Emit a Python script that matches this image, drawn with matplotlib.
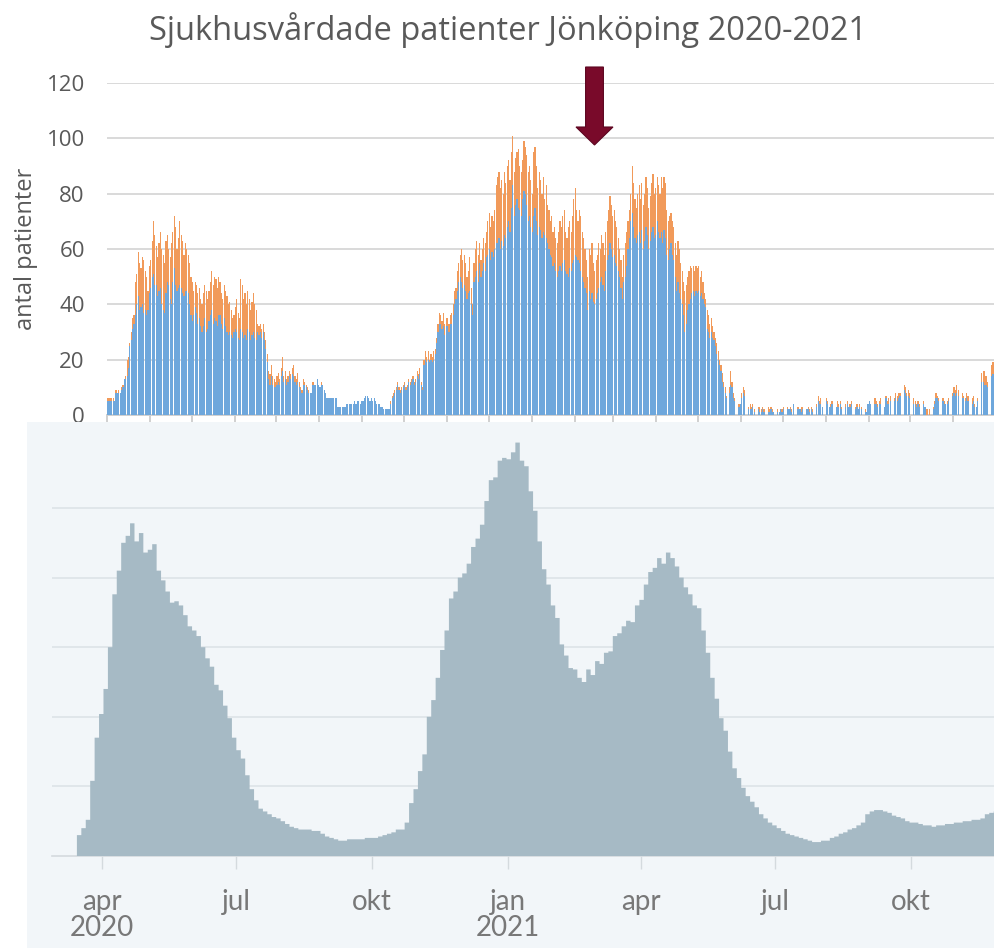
import numpy as np
import pandas as pd
import matplotlib
matplotlib.use("Agg")
import matplotlib.pyplot as plt
import matplotlib.dates as mdates
from matplotlib.patches import FancyArrow

# ---------------- data: top chart (daily patients, Region Jönköping) ----------------
top_start = "2020-03-15"
total = [
6,6,6,6,6,5,9,8,9,8,
10,11,13,14,20,21,26,30,35,36,
48,51,59,55,53,57,56,52,50,45,
54,56,63,70,65,61,57,62,66,60,
58,55,63,65,60,57,62,66,72,68,
60,64,70,65,63,58,62,60,58,55,
50,48,45,48,47,44,46,42,40,44,
47,45,42,45,48,52,47,50,49,46,
50,48,44,42,47,45,43,40,41,38,
35,36,39,42,37,35,49,47,42,44,
40,45,42,38,41,44,40,38,33,32,
33,31,33,30,27,22,16,15,18,14,
13,12,14,15,13,17,21,14,16,13,
14,16,15,17,18,14,13,15,12,10,
9,13,12,11,10,9,8,8,12,11,
11,13,11,10,12,11,9,8,6,6,
6,6,6,6,6,6,3,3,3,3,
3,3,4,4,4,4,4,4,5,4,
5,5,4,5,5,6,7,7,6,5,
6,5,6,5,4,4,4,3,3,2,
2,2,2,2,5,7,8,9,10,12,
10,9,10,11,12,10,11,13,12,13,
14,12,13,16,15,17,12,10,20,23,
21,23,20,22,21,23,24,28,33,37,
36,34,37,33,35,35,33,36,37,40,
45,46,52,55,58,60,56,58,55,50,
52,57,46,40,55,60,63,58,62,56,
60,64,62,66,70,73,68,72,70,74,
83,86,88,82,85,80,88,84,90,92,
85,95,101,88,93,95,96,90,88,92,
99,97,94,88,90,85,80,95,97,90,
82,88,85,80,86,78,83,76,74,70,
72,66,68,64,62,66,70,68,72,74,
66,64,68,70,66,72,78,82,74,70,
74,72,66,64,60,56,50,60,58,62,
55,52,56,58,62,60,65,62,58,66,
70,74,79,76,72,74,70,68,64,60,
56,50,58,62,66,70,74,80,90,84,
78,75,80,83,78,84,76,80,86,82,
75,79,84,87,80,82,86,83,80,86,
82,86,84,74,70,72,73,70,68,62,
58,63,60,55,52,48,45,47,50,52,
54,53,54,52,54,53,54,50,52,48,
44,42,38,36,33,35,32,30,28,26,
23,20,18,15,12,10,
7,0,10,16,12,8,6,
0,0,4,4,8,10,9,
0,0,3,4,3,4,2,
0,0,3,3,2,3,2,
0,0,3,2,3,2,1,
0,0,2,1,2,2,3,
0,0,3,2,3,2,4,
0,0,3,3,2,3,3,
0,0,2,3,2,3,2,
0,0,4,7,5,6,3,
0,0,6,5,3,4,5,
0,0,3,5,4,5,3,
0,0,4,5,3,4,5,
0,0,3,4,2,4,3,
0,0,2,1,4,5,4,
0,0,6,5,4,5,6,
0,0,3,7,5,6,7,
0,0,6,8,7,8,8,
0,0,11,10,8,9,8,
0,0,6,5,4,5,4,
0,0,5,3,2,2,2,
0,0,3,5,8,7,6,
0,0,6,5,4,5,6,
0,0,8,10,9,11,9,
0,0,8,7,6,8,7,
0,0,6,7,4,3,6,
0,0,15,16,16,14,12,
0,0,18,19]

blue = [
5,5,5,5,5,5,8,8,8,8,
9,10,13,13,14,17,25,27,31,33,
36,40,43,38,39,40,37,38,36,38,
44,46,50,51,47,47,43,45,46,40,
38,37,44,48,47,42,40,48,53,47,
45,46,47,46,44,43,45,45,44,40,
36,34,36,39,37,33,35,32,30,32,
35,30,31,34,36,38,33,35,34,32,
36,36,33,31,35,32,30,29,30,29,
28,30,31,30,28,27,31,30,28,29,
27,31,30,27,29,30,28,27,30,29,
30,28,30,27,24,19,13,11,14,11,
10,10,11,12,11,14,16,12,13,11,
12,14,13,15,14,12,11,12,10,9,
8,11,11,10,9,8,8,8,11,11,
11,13,11,10,11,11,9,8,6,6,
6,6,6,6,6,6,3,3,3,3,
3,3,4,4,4,4,4,4,5,4,
5,5,4,5,5,6,7,7,6,5,
6,5,6,5,4,4,4,3,3,2,
2,2,2,2,4,6,7,8,9,11,
9,8,9,10,11,9,10,12,11,12,
13,11,12,14,13,15,11,9,18,20,
19,20,19,20,19,20,22,26,30,33,
33,31,32,29,32,32,30,33,33,36,
40,42,45,48,50,48,46,47,45,42,
44,45,40,36,48,50,52,48,55,50,
52,55,52,57,58,60,56,59,57,60,
62,62,64,60,63,61,65,64,68,70,
66,75,83,72,76,78,75,74,72,78,
81,80,76,70,72,68,66,72,75,70,
65,68,67,64,66,65,64,62,60,58,
57,54,55,52,50,52,54,52,55,56,
52,51,50,53,52,55,56,58,57,56,
55,52,50,48,46,44,38,45,42,44,
41,40,42,44,46,48,50,47,45,52,
56,58,62,60,57,58,55,54,52,50,
46,42,48,50,54,60,64,70,73,68,
64,62,65,66,62,67,60,63,68,65,
60,63,66,68,64,65,70,66,64,66,
62,67,64,58,56,60,62,58,56,50,
45,48,44,42,40,36,30,33,38,40,
42,44,45,43,45,44,45,43,44,42,
40,39,31,30,28,30,28,27,25,22,
20,18,16,12,10,8,
6,0,8,11,10,6,5,
0,0,3,4,6,8,7,
0,0,2,2,2,3,1,
0,0,2,1,1,2,1,
0,0,1,1,2,1,1,
0,0,1,1,2,1,2,
0,0,2,2,2,1,4,
0,0,2,2,2,1,2,
0,0,2,2,1,2,1,
0,0,3,5,4,4,3,
0,0,5,4,3,3,4,
0,0,3,3,3,4,2,
0,0,3,4,3,3,4,
0,0,2,3,2,3,2,
0,0,1,1,4,5,4,
0,0,4,4,3,4,4,
0,0,3,6,4,4,5,
0,0,5,6,5,6,7,
0,0,9,8,7,7,6,
0,0,4,4,3,4,3,
0,0,4,3,0,0,0,
0,0,2,4,6,6,5,
0,0,5,4,4,4,5,
0,0,7,8,7,8,7,
0,0,6,6,5,6,5,
0,0,4,5,3,3,5,
0,0,12,12,11,11,10,
0,0,14,15]

top_yticks = [0, 20, 40, 60, 80, 100, 120]

# ---------------- data: bottom chart (smoothed curve, values every 3 days) ----------------
bottom_start = "2020-03-15"
bottom_step_days = 3
bottom_vals = [
15,20,26,54,85,102,120,150,188,205,225,230,239,226,232,218,220,224,205,198,
190,182,183,180,173,165,162,158,150,142,136,123,119,108,99,85,76,70,58,48,
40,34,32,30,28,27,25,23,21,20,19,19,19,18,18,16,14,13,12,11,
11,12,12,12,12,13,13,13,14,15,16,17,19,19,24,38,48,61,73,100,
112,128,148,162,185,190,200,203,210,222,228,238,255,270,272,284,286,285,290,297,
284,280,262,248,226,206,195,180,171,152,144,135,134,128,125,134,130,140,138,146,
147,158,160,165,169,168,180,184,195,204,207,214,210,218,214,208,200,193,188,180,
178,162,146,128,113,99,90,75,63,56,49,43,39,35,30,27,24,22,20,18,
16,15,14,13,12,11,10,10,11,11,13,14,16,17,19,20,22,24,30,32,
33,33,32,31,29,28,27,25,24,24,23,22,22,21,22,22,23,23,24,24,
25,25,26,26,27,30,31,32]
bottom_tick_dates = ["2020-04-01", "2020-07-01", "2020-10-01", "2021-01-01",
                     "2021-04-01", "2021-07-01", "2021-10-01"]
bottom_tick_labels = ["apr\n2020", "jul", "okt", "jan\n2021", "apr", "jul", "okt"]
bottom_grid = [50, 100, 150, 200, 250]

title = "Sjukhusvårdade patienter Jönköping 2020-2021"
ylabel = "antal patienter"

# ---------------- figure ----------------
W, H = 995, 948
fig = plt.figure(figsize=(W / 100, H / 100), dpi=100)
fig.patch.set_facecolor("white")

def fx(px):
    return px / W

def fy(py):
    return 1 - py / H

txt_font = ["Open Sans", "DejaVu Sans"]

# ---- top axes ----
ax = fig.add_axes([fx(107), fy(415), fx(888), 332 / H])
n = len(total)
x = np.arange(n)
blue_a = np.array(blue, dtype=float)
tot_a = np.array(total, dtype=float)
orange_a = np.clip(tot_a - blue_a, 0, None)
ax.bar(x, blue_a, width=0.85, color="#6ea7dc", linewidth=0, zorder=3)
ax.bar(x, orange_a, bottom=blue_a, width=0.85, color="#f19a5a", linewidth=0, zorder=3)
ax.set_ylim(0, 120)
ax.set_xlim(-0.5, -0.5 + 888 / 1.39)
ax.set_yticks(top_yticks)
ax.set_yticklabels([str(v) for v in top_yticks], fontsize=16, color="#595959",
                   family=txt_font)
ax.tick_params(axis="y", length=0, pad=16)
ax.grid(axis="y", color="#d9d9d9", linewidth=1.4, zorder=0)
for s in ["top", "right", "left"]:
    ax.spines[s].set_visible(False)
ax.spines["bottom"].set_color("#d0d0d0")
ax.spines["bottom"].set_linewidth(1.4)
start = pd.Timestamp(top_start)
month_ticks = pd.date_range(start, periods=22, freq=pd.DateOffset(months=1))
tick_pos = [(d - start).days - 0.5 for d in month_ticks]
ax.set_xticks(tick_pos)
ax.set_xticklabels([])
ax.tick_params(axis="x", length=7, width=1.4, color="#d0d0d0")
ax.set_ylabel(ylabel, fontsize=17, color="#595959", family=txt_font, labelpad=6)
ax.patch.set_alpha(0)

fig.text(fx(508), fy(30), title, ha="center", va="center", fontsize=23.5,
         color="#595959", family=txt_font)

# arrow (annotation)
arr = FancyArrow(fx(594.5), fy(67), 0, fy(145) - fy(67), width=17 / H,
                 head_width=37 / W, head_length=18 / H, length_includes_head=True,
                 transform=fig.transFigure, facecolor="#790a2a", edgecolor="#5c0620",
                 linewidth=0.8)
fig.add_artist(arr)

# ---- bottom panel ----
panel = fig.add_axes([fx(27), 0, fx(968), (H - 422) / H])
panel.set_facecolor("#f2f6f9")
panel.set_xticks([]); panel.set_yticks([])
for s in panel.spines.values():
    s.set_visible(False)

bx = fig.add_axes([fx(52), fy(856), fx(943), (856 - 422) / H])
bx.patch.set_alpha(0)
bdates = pd.date_range(bottom_start, periods=len(bottom_vals) + 1,
                       freq=f"{bottom_step_days}D")
edges = mdates.date2num(bdates.to_pydatetime())
vals = np.asarray(bottom_vals, dtype=float)
# outline of the step area: one closed polygon
px_ = np.concatenate([[edges[0]], np.repeat(edges[1:-1], 2), [edges[-1]]])
py_ = np.repeat(vals, 2)
poly_x = np.concatenate([[edges[0]], px_, [edges[-1]]])
poly_y = np.concatenate([[0], py_, [0]])
bx.fill(poly_x, poly_y, facecolor="#a6bac5", edgecolor="none", linewidth=0,
        zorder=3, snap=False, antialiased=True)
apr1 = mdates.date2num(pd.Timestamp("2020-04-01"))
bx.set_xlim(apr1 - 50 / 1.4763, apr1 + 893 / 1.4763)
bx.set_ylim(0, (856 - 422) / 1.392)
bx.set_yticks(bottom_grid)
bx.set_yticklabels([])
bx.tick_params(axis="y", length=0)
bx.grid(axis="y", color="#dde3e8", linewidth=1.2, zorder=0)
for s in ["top", "right", "left"]:
    bx.spines[s].set_visible(False)
bx.spines["bottom"].set_color("#d4dade")
bx.spines["bottom"].set_linewidth(1.2)
bx.set_xticks([mdates.date2num(pd.Timestamp(d)) for d in bottom_tick_dates])
bx.set_xticklabels(bottom_tick_labels, fontsize=20, color="#787878",
                   family=["Lato", "DejaVu Sans"])
for lbl in bx.get_xticklabels():
    lbl.set_linespacing(1.0)
bx.tick_params(axis="x", length=9, width=1, color="#d4dade", pad=15)

fig.savefig("out.png", dpi=100)
